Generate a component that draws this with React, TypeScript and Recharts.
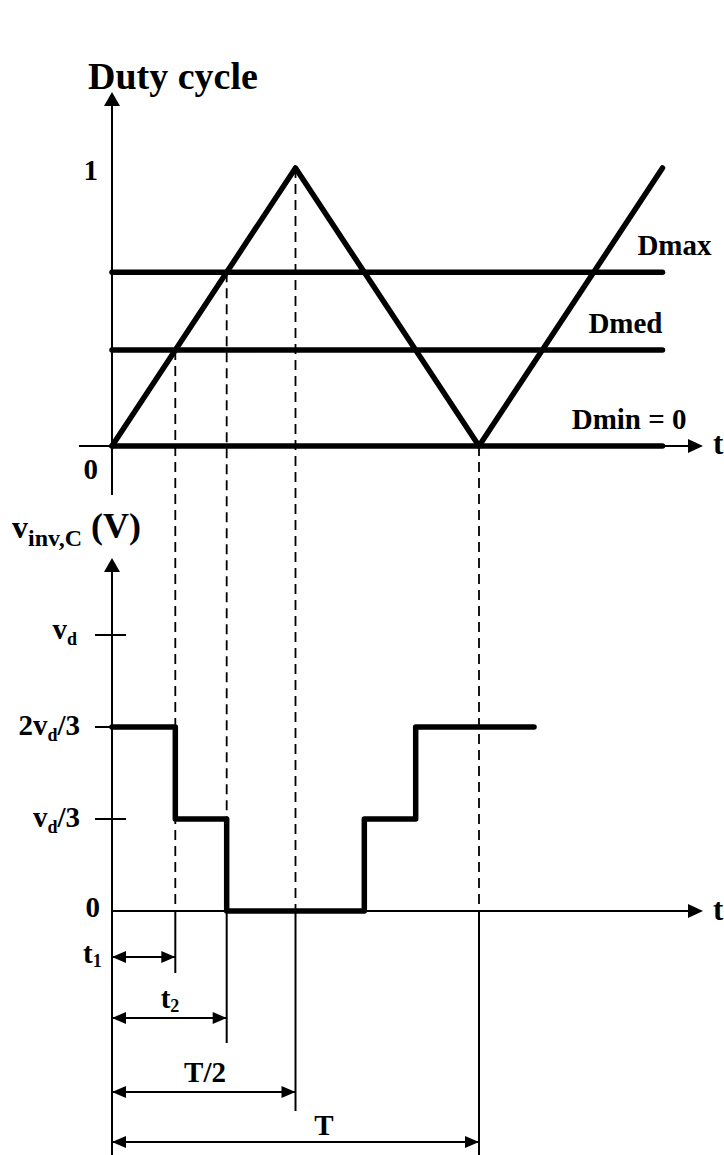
import React from 'react';
import { ComposedChart, XAxis, YAxis, Line, ReferenceLine, ReferenceDot } from 'recharts';

// triangular carrier over one and a half periods (time in units of T)
const carrierTime = [0, 0.5, 1, 1.5];
const carrierDuty = [0, 1, 0, 1];

// duty references compared with the carrier
const refNames = ['Dmax', 'Dmed', 'Dmin'];
const refDuty = [0.625, 0.345, 0];
const refEndTime = 1.5;

// inverter phase voltage (units of vd), one level per interval
const voltLevels = [2 / 3, 1 / 3, 0, 1 / 3, 2 / 3];
const voltEndTime = 1.15;

// voltage axis ticks
const voltTicks = [1, 2 / 3, 1 / 3, 0];

const W = 724;
const H = 1155;
const FONT = "'Liberation Serif', 'Times New Roman', Times, serif";

// pixel layout of the two stacked plots
const T0_PX = 112;
const T_PX = 367;
const DUTY0_PX = 446;
const DUTY_UNIT_PX = 278;
const VOLT0_PX = 911;
const VOLT_UNIT_PX = 276;
const tAt = (px: number) => (px - T0_PX) / T_PX;
const dutyAt = (py: number) => (DUTY0_PX - py) / DUTY_UNIT_PX;
const voltAt = (py: number) => (VOLT0_PX - py) / VOLT_UNIT_PX;

const [dMax, dMed] = refDuty;
// carrier crosses Dmed, Dmax on the way up, then Dmax, Dmed on the way down
const switchTimes = [dMed / 2, dMax / 2, 1 - dMax / 2, 1 - dMed / 2];

const carrierData = carrierTime.map((t, i) => ({ t, d: carrierDuty[i] }));
const refData = refDuty.map((d) => [
  { t: 0, d },
  { t: refEndTime, d },
]);
const voltData = [0, ...switchTimes, voltEndTime].map((t, i) => ({
  t,
  v: voltLevels[Math.min(i, voltLevels.length - 1)],
}));

// dashed guides from the top plot down to the time-interval arrows
const guides = [
  { name: 't1', t: switchTimes[0], from: dMed, stopPx: 973, arrowPx: 957 },
  { name: 't2', t: switchTimes[1], from: dMax, stopPx: 1043, arrowPx: 1018 },
  { name: 'T/2', t: 0.5, from: 1, stopPx: 1111, arrowPx: 1092 },
  { name: 'T', t: 1, from: 0, stopPx: H, arrowPx: 1142 },
];

const AXIS_END_T = tAt(703);

type Opts = { anchor?: 'start' | 'middle' | 'end'; dx?: number; dy?: number; size?: number };

const label = (key: string, t: number, y: number, axis: string, body: React.ReactNode, o: Opts = {}) => (
  <ReferenceDot
    key={key}
    x={t}
    y={y}
    yAxisId={axis}
    r={0}
    ifOverflow="visible"
    shape={(p: any) => (
      <text
        x={p.cx + (o.dx ?? 0)}
        y={p.cy + (o.dy ?? 0)}
        textAnchor={o.anchor ?? 'start'}
        fontFamily={FONT}
        fontWeight="bold"
        fontSize={o.size ?? 29}
        fill="#000"
      >
        {body}
      </text>
    )}
  />
);

const head = (key: string, t: number, y: number, axis: string, dir: 'up' | 'left' | 'right', len = 14, half = 7) => (
  <ReferenceDot
    key={key}
    x={t}
    y={y}
    yAxisId={axis}
    r={0}
    ifOverflow="visible"
    shape={(p: any) => {
      const { cx, cy } = p;
      let pts = '';
      if (dir === 'up') pts = `${cx},${cy} ${cx - half},${cy + len} ${cx + half},${cy + len}`;
      if (dir === 'right') pts = `${cx},${cy} ${cx - len},${cy - half} ${cx - len},${cy + half}`;
      if (dir === 'left') pts = `${cx},${cy} ${cx + len},${cy - half} ${cx + len},${cy + half}`;
      return <polygon points={pts} fill="#000" />;
    }}
  />
);

const seg = (key: string, axis: string, a: [number, number], b: [number, number], width = 2, dash?: string) => (
  <ReferenceLine
    key={key}
    yAxisId={axis}
    segment={[
      { x: a[0], y: a[1] },
      { x: b[0], y: b[1] },
    ]}
    stroke="#000"
    strokeWidth={width}
    strokeDasharray={dash}
    ifOverflow="visible"
  />
);

// "v" with a subscript d, followed by optional text
const vd = (tail = '') => (
  <>
    v
    <tspan fontSize={18} dy={6}>
      d
    </tspan>
    <tspan dy={-6}>{tail}</tspan>
  </>
);

const voltTickText = (v: number) => {
  if (v === 0) return '0';
  if (v === 1) return vd();
  if (Math.abs(v - 2 / 3) < 1e-6) return <>2{vd('/3')}</>;
  return vd('/3');
};

const guideText = (name: string) =>
  name.startsWith('t') ? (
    <>
      t
      <tspan fontSize={18} dy={4}>
        {name.slice(1)}
      </tspan>
    </>
  ) : (
    name
  );

// where each interval label sits: [t-pixel, anchor, dy]
const guideLabelPos: Record<string, [number, 'start' | 'middle', number]> = {
  t1: [83, 'start', 6],
  t2: [170, 'middle', -10],
  'T/2': [205, 'middle', -10],
  T: [324, 'middle', -7],
};

export default function App() {
  const lineProps = {
    stroke: '#000',
    strokeWidth: 5.5,
    strokeLinecap: 'round' as const,
    strokeLinejoin: 'round' as const,
    dot: false,
    activeDot: false,
    isAnimationActive: false,
  };

  return (
    <div style={{ position: 'absolute', left: 0, top: 0, width: W, height: H, background: '#fff' }}>
      <ComposedChart width={W} height={H} margin={{ top: 0, right: 0, bottom: 0, left: 0 }}>
        <XAxis type="number" dataKey="t" domain={[tAt(0), tAt(W)]} allowDataOverflow hide />
        <YAxis yAxisId="duty" type="number" domain={[dutyAt(H), dutyAt(0)]} allowDataOverflow hide />
        <YAxis yAxisId="volt" type="number" domain={[voltAt(H), voltAt(0)]} allowDataOverflow hide />

        {/* dashed guides, then solid below the voltage time axis */}
        {guides.map((g) => seg(`gd-${g.name}`, 'duty', [g.t, g.from], [g.t, dutyAt(VOLT0_PX)], 1.8, '10 6'))}
        {guides.map((g) => seg(`gs-${g.name}`, 'volt', [g.t, 0], [g.t, voltAt(g.stopPx)], 2))}

        {/* duty plot axes */}
        {seg('dy-axis', 'duty', [0, dutyAt(495)], [0, dutyAt(100)], 2)}
        {head('dy-head', 0, dutyAt(92), 'duty', 'up', 14, 8)}
        {seg('dx-axis', 'duty', [tAt(79), 0], [AXIS_END_T - tAt(T0_PX + 10), 0], 2)}
        {head('dx-head', AXIS_END_T, 0, 'duty', 'right', 15, 7)}

        {/* voltage plot axes */}
        {seg('vy-axis', 'volt', [0, voltAt(H)], [0, voltAt(566)], 2)}
        {head('vy-head', 0, voltAt(558), 'volt', 'up', 14, 8)}
        {seg('vx-axis', 'volt', [0, 0], [AXIS_END_T - tAt(T0_PX + 10), 0], 2)}
        {head('vx-head', AXIS_END_T, 0, 'volt', 'right', 15, 7)}
        {voltTicks
          .filter((v) => v > 0)
          .map((v) =>
            seg(`vt-${v}`, 'volt', [tAt(95), v], [Math.abs(v - 2 / 3) < 1e-6 ? 0 : tAt(126), v], 2)
          )}

        {/* interval arrows */}
        {guides.map((g) => seg(`ar-${g.name}`, 'volt', [0, voltAt(g.arrowPx)], [g.t, voltAt(g.arrowPx)], 2))}
        {guides.map((g) => head(`al-${g.name}`, 0, voltAt(g.arrowPx), 'volt', 'left', 14, 6))}
        {guides.map((g) => head(`arr-${g.name}`, g.t, voltAt(g.arrowPx), 'volt', 'right', 14, 6))}

        {refData.map((data, i) => (
          <Line key={refNames[i]} yAxisId="duty" data={data} dataKey="d" type="linear" {...lineProps} />
        ))}
        <Line yAxisId="duty" data={carrierData} dataKey="d" type="linear" {...lineProps} />
        <Line yAxisId="volt" data={voltData} dataKey="v" type="stepAfter" {...lineProps} />

        {/* duty plot text */}
        {label('title', tAt(88), dutyAt(89), 'duty', 'Duty cycle', { size: 38 })}
        {label('one', 0, 1, 'duty', '1', { anchor: 'end', dx: -14, dy: 12 })}
        {label('zero', 0, 0, 'duty', '0', { anchor: 'end', dx: -14, dy: 33 })}
        {refNames.map((n, i) =>
          label(`rn-${n}`, refEndTime, refDuty[i], 'duty', refDuty[i] === 0 ? `${n} = 0` : n, {
            anchor: 'end',
            dx: [49, 0, 24][i],
            dy: -17,
          })
        )}
        {label('dt', AXIS_END_T, 0, 'duty', 't', { dx: 10, dy: 8, size: 31 })}

        {/* voltage plot text */}
        {label(
          'vname',
          tAt(12),
          voltAt(538),
          'volt',
          <>
            <tspan fontSize={32}>v</tspan>
            <tspan fontSize={24} dy={8}>
              inv,C
            </tspan>
            <tspan fontSize={36} dy={-8}>
              {' (V)'}
            </tspan>
          </>
        )}
        {voltTicks.map((v) =>
          label(`vl-${v}`, 0, v, 'volt', voltTickText(v), {
            anchor: 'end',
            dx: v === 0 ? -12 : v === 1 ? -35 : -32,
            dy: v === 1 ? 4 : v === 0 ? 6 : 8,
          })
        )}
        {label('vt', AXIS_END_T, 0, 'volt', 't', { dx: 10, dy: 9, size: 31 })}
        {guides.map((g) => {
          const [px, anchor, dy] = guideLabelPos[g.name];
          return label(`gl-${g.name}`, tAt(px), voltAt(g.arrowPx), 'volt', guideText(g.name), { anchor, dy });
        })}
      </ComposedChart>
    </div>
  );
}
